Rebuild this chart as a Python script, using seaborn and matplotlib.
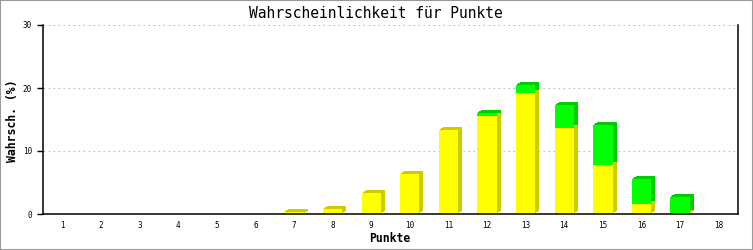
import numpy as np
import pandas as pd
import matplotlib
matplotlib.use("Agg")
import matplotlib.pyplot as plt
import seaborn as sns
from matplotlib.transforms import ScaledTranslation
from matplotlib.patches import Rectangle

# ---- data ----
punkte = [str(i) for i in range(1, 19)]
gelb = [0, 0, 0, 0, 0, 0, 0.3, 0.8, 3.3, 6.4, 13.3, 15.6, 19.2, 13.7, 7.8, 1.6, 0.2, 0]
gruen = [0, 0, 0, 0, 0, 0, 0, 0, 0, 0, 0, 0.4, 1.3, 3.65, 6.35, 4.0, 2.55, 0]
yticks = [0, 10, 20, 30]
title = "Wahrscheinlichkeit für Punkte"
xlabel = "Punkte"
ylabel = "Wahrsch. (%)"

sns.set_theme(style="white")
plt.rcParams['font.family'] = ['DejaVu Sans Mono', 'DejaVu Sans']

df = pd.DataFrame({"Punkte": punkte, "gelb": gelb,
                   "gesamt": np.add(gelb, gruen)})

W, H = 753, 250
fig = plt.figure(figsize=(W / 100, H / 100), dpi=100)
fig.patch.set_facecolor("white")
ax = fig.add_axes([43 / W, 36 / H, 695 / W, 189 / H])


def bars(col, color, shift_px=None):
    n = len(ax.patches)
    sns.barplot(data=df, x="Punkte", y=col, color=color, width=0.5,
                saturation=1, linewidth=0, errorbar=None, ax=ax)
    for p in ax.patches[n:]:
        p.set_edgecolor("none")
        if shift_px is not None:
            dx, dy = shift_px
            p.set_transform(ax.transData + ScaledTranslation(
                dx / 100, dy / 100, fig.dpi_scale_trans))


# depth (side + top faces) built from stacked offset copies
depth_steps = [(1, 1), (2, 2), (3, 2), (4, 3)]
for step in depth_steps:
    bars("gesamt", "#00cc00", step)
for step in depth_steps:
    bars("gelb", "#cccc00", step)
# front faces
bars("gesamt", "#00ff00")
bars("gelb", "#ffff00")

ax.set_xlim(-0.5, 17.5)
ax.set_ylim(0, 30)
ax.set_yticks(yticks)
ax.set_yticklabels([str(v) for v in yticks])
ax.set_xlabel("")
ax.set_ylabel("")
ax.set_axisbelow(True)
ax.yaxis.grid(True, color="#bbbbbb", linestyle=(0, (1.5, 3)), linewidth=0.8)
ax.xaxis.grid(False)

for s in ["left", "bottom", "right"]:
    ax.spines[s].set_visible(True)
    ax.spines[s].set_color("black")
    ax.spines[s].set_linewidth(1.1)
ax.spines["top"].set_visible(False)

ax.tick_params(axis="y", which="both", left=True, length=4, width=1,
               color="black", labelsize=5.5, pad=4, direction="out")
ax.tick_params(axis="x", which="both", bottom=False, length=0,
               labelsize=5.5, pad=5)
for lab in ax.get_xticklabels() + ax.get_yticklabels():
    lab.set_color("black")

fig.text(376 / W, 1 - 13 / H, title, ha="center", va="center",
         fontsize=10.5, color="black")
fig.text(390 / W, 1 - 238.5 / H, xlabel, ha="center", va="center",
         fontsize=8.3, fontweight="bold", color="black")
fig.text(12.5 / W, 1 - 121 / H, ylabel, ha="center", va="center",
         rotation=90, fontsize=8.3, fontweight="bold", color="black")

fig.patches.append(Rectangle((0, 0), 1, 1, transform=fig.transFigure,
                             fill=False, edgecolor="#999999", linewidth=1.5))

fig.savefig("out.png", dpi=100)
